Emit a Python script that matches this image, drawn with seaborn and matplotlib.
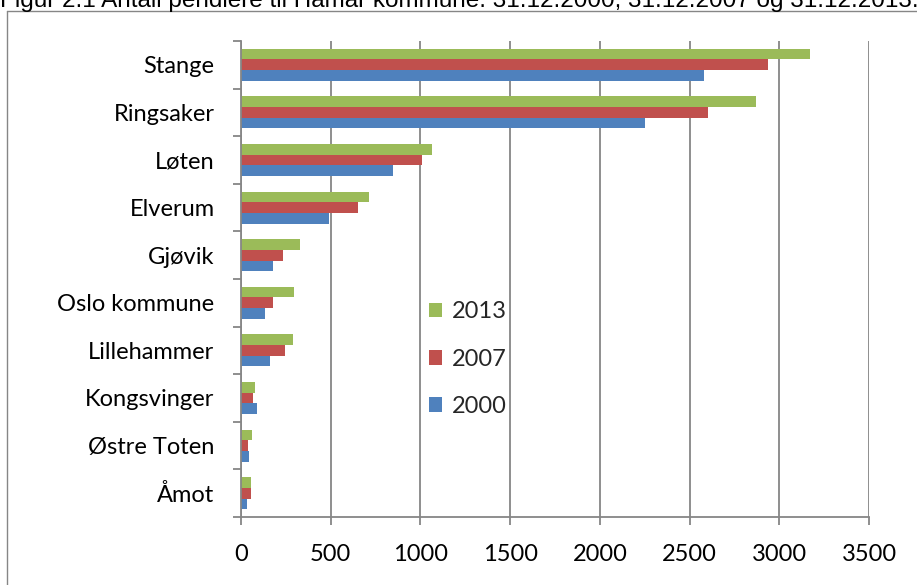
import matplotlib
matplotlib.use("Agg")
import matplotlib.pyplot as plt
import seaborn as sns
import pandas as pd
import numpy as np
from matplotlib.lines import Line2D

categories = ["Stange", "Ringsaker", "Løten", "Elverum", "Gjøvik",
              "Oslo kommune", "Lillehammer", "Kongsvinger", "Østre Toten", "Åmot"]
years = ["2013", "2007", "2000"]
v2013 = [3170, 2868, 1065, 715, 330, 297, 291, 80, 63, 58]
v2007 = [2939, 2604, 1008, 651, 236, 181, 243, 67, 37, 56]
v2000 = [2582, 2249, 849, 492, 180, 134, 160, 88, 47, 34]
xticks = [0, 500, 1000, 1500, 2000, 2500, 3000, 3500]
title = "Figur 2.1 Antall pendlere til Hamar kommune. 31.12.2000, 31.12.2007 og 31.12.2013."

colors = {"2013": "#9BBB59", "2007": "#C0504D", "2000": "#4F81BD"}

df = pd.DataFrame({
    "kommune": categories * 3,
    "year": ["2013"] * 10 + ["2007"] * 10 + ["2000"] * 10,
    "value": v2013 + v2007 + v2000,
})

sns.set_theme(style="white")
plt.rcParams["font.family"] = ["Lato", "DejaVu Sans"]

W, H = 917, 585
fig = plt.figure(figsize=(W / 100, H / 100), dpi=100)
ax = fig.add_axes([241 / W, (H - 517) / H, 628 / W, 476 / H])

sns.barplot(data=df, y="kommune", x="value", hue="year", hue_order=years,
            order=categories, palette=colors, orient="h", width=0.67,
            linewidth=0, saturation=1, ax=ax)

gray = "#868686"
ax.set_xlim(0, 3500)
ax.set_ylim(9.5, -0.5)
ax.set_xticks(xticks)
ax.set_xticklabels([str(t) for t in xticks])
ax.set_xlabel("")
ax.set_ylabel("")
ax.xaxis.grid(True, color=gray, linewidth=1.3)
ax.set_axisbelow(True)
for s in ["top", "right"]:
    ax.spines[s].set_visible(False)
for s in ["left", "bottom"]:
    ax.spines[s].set_color(gray)
    ax.spines[s].set_linewidth(1.3)

ax.set_yticks(np.arange(-0.5, 10, 1), minor=True)
ax.tick_params(axis="y", which="major", length=0, pad=19, labelsize=17, labelcolor="black")
ax.tick_params(axis="y", which="minor", length=5.8, width=1.3, color=gray, left=True)
ax.tick_params(axis="x", which="major", length=5.5, width=1.3, color=gray, bottom=True,
               pad=14, labelsize=17, labelcolor="black")

handles, labels = ax.get_legend_handles_labels()
ax.legend(handles, labels, loc="upper left", bbox_to_anchor=(0.28, 0.478),
          frameon=False, fontsize=17, handlelength=0.58, handleheight=0.58,
          handletextpad=0.4, labelspacing=1.12, borderpad=0)

# outer chart frame
fig.add_artist(Line2D([7 / W, 7 / W], [0, 1 - 11 / H], transform=fig.transFigure,
                      color=gray, linewidth=1))
fig.add_artist(Line2D([7 / W, 1], [1 - 11 / H, 1 - 11 / H], transform=fig.transFigure,
                      color=gray, linewidth=1))

fig.text(0 / W, 1 - 7 / H, title, fontsize=17.5, family=["Liberation Sans", "DejaVu Sans"],
         va="baseline", ha="left", color="black")

fig.savefig("out.png", dpi=100)
